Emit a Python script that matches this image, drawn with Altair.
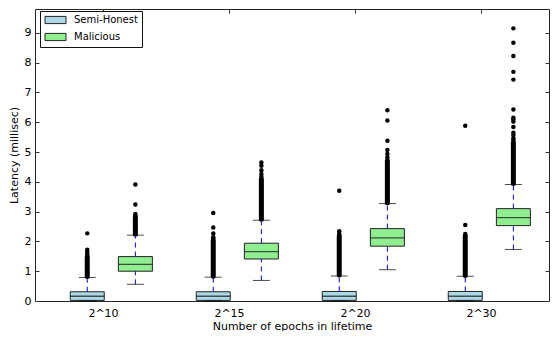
import altair as alt
import pandas as pd

categories = ["2^10", "2^15", "2^20", "2^30"]
series = ["Semi-Honest", "Malicious"]
colors = ["#add8e6", "#90ee90"]

# box statistics (milliseconds)
semi_lo = [0.0, 0.0, 0.0, 0.0]
semi_q1 = [0.02, 0.02, 0.02, 0.02]
semi_med = [0.16, 0.16, 0.16, 0.16]
semi_q3 = [0.31, 0.31, 0.32, 0.32]
semi_hi = [0.79, 0.80, 0.84, 0.83]

mal_lo = [0.56, 0.69, 1.05, 1.73]
mal_q1 = [1.00, 1.41, 1.84, 2.53]
mal_med = [1.23, 1.66, 2.12, 2.80]
mal_q3 = [1.49, 1.94, 2.43, 3.10]
mal_hi = [2.21, 2.71, 3.27, 3.91]

# densely packed outlier ranges
semi_dense_lo = [0.82, 0.83, 0.87, 0.86]
semi_dense_hi = [1.47, 2.03, 2.18, 2.18]
mal_dense_lo = [2.24, 2.74, 3.30, 3.94]
mal_dense_hi = [2.80, 4.09, 4.71, 5.32]

# isolated outliers
semi_outliers = [
    [1.52, 1.58, 1.65, 1.72, 2.27],
    [2.09, 2.14, 2.27, 2.47, 2.95],
    [2.25, 2.34, 3.70],
    [2.25, 2.55, 5.88],
]
mal_outliers = [
    [2.86, 2.92, 3.24, 3.91],
    [4.17, 4.26, 4.39, 4.54, 4.65],
    [4.82, 4.93, 5.07, 5.38, 6.06, 6.40],
    [5.40, 5.46, 5.57, 5.65, 5.84, 6.02, 6.10, 6.15, 6.43, 7.43, 7.69, 8.22, 8.67, 9.15],
]

offsets = {"Semi-Honest": -0.125, "Malicious": 0.257}

stats_rows, out_rows, dense_rows = [], [], []
for i, cat in enumerate(categories):
    for s, lo, q1, md, q3, hi, dlo, dhi, outs in [
        ("Semi-Honest", semi_lo, semi_q1, semi_med, semi_q3, semi_hi, semi_dense_lo, semi_dense_hi, semi_outliers),
        ("Malicious", mal_lo, mal_q1, mal_med, mal_q3, mal_hi, mal_dense_lo, mal_dense_hi, mal_outliers),
    ]:
        xc = i + 0.5 + offsets[s]
        stats_rows.append(dict(cat=cat, series=s, x=xc, lo=lo[i], q1=q1[i], med=md[i], q3=q3[i], hi=hi[i]))
        dense_rows.append(dict(x=xc, lo=dlo[i], hi=dhi[i]))
        for v in outs[i]:
            out_rows.append(dict(x=xc, v=v))

stats = pd.DataFrame(stats_rows)
outl = pd.DataFrame(out_rows)
dense = pd.DataFrame(dense_rows)

W, H = 514, 292
xscale = alt.Scale(domain=[0, 4], nice=False, zero=False)
yscale = alt.Scale(domain=[0, 9.8], nice=False, zero=True)
xvals = [i + 0.5 for i in range(len(categories))]
yvals = list(range(10))
label_arr = "[" + ",".join("'%s'" % c for c in categories) + "]"

def xax(**kw):
    return alt.Axis(values=xvals, grid=False, domain=False, **kw)

def yax(**kw):
    return alt.Axis(values=yvals, grid=False, domain=False, **kw)

base = alt.Chart(stats)

whisk_up = base.mark_rule(color="blue", strokeDash=[5, 4], strokeWidth=1).encode(
    x=alt.X("x:Q", scale=xscale, axis=None),
    y=alt.Y("q3:Q", scale=yscale, axis=None),
    y2="hi:Q",
)
whisk_dn = base.mark_rule(color="blue", strokeDash=[5, 4], strokeWidth=1).encode(
    x=alt.X("x:Q", scale=xscale, axis=None),
    y=alt.Y("lo:Q", scale=yscale, axis=None),
    y2="q1:Q",
)
cap_hi = base.mark_tick(orient="horizontal", size=17, thickness=1, color="black").encode(
    x=alt.X("x:Q", scale=xscale,
            axis=xax(orient="bottom", offset=-H, labels=False, title=None, tickSize=4, tickColor="#333")),
    y=alt.Y("hi:Q", scale=yscale,
            axis=yax(orient="left", offset=-W, labels=False, title=None, tickSize=4, tickColor="#333")),
)
cap_lo = base.mark_tick(orient="horizontal", size=17, thickness=1, color="black").encode(
    x=alt.X("x:Q", scale=xscale, axis=None),
    y=alt.Y("lo:Q", scale=yscale, axis=None),
)
boxes = base.mark_bar(size=34, stroke="#222", strokeWidth=1).encode(
    x=alt.X("x:Q", scale=xscale,
            axis=xax(orient="bottom", ticks=False, tickSize=0, labelPadding=6,
                     labelExpr=label_arr + "[round(datum.value - 0.5)]",
                     title="Number of epochs in lifetime", titlePadding=2)),
    y=alt.Y("q1:Q", scale=yscale,
            axis=yax(orient="left", ticks=False, tickSize=0, labelPadding=4,
                     title="Latency (millisec)", titlePadding=5)),
    y2="q3:Q",
    fill=alt.Fill("series:N", scale=alt.Scale(domain=series, range=colors),
                  legend=alt.Legend(title=None, orient="none", legendX=5, legendY=2,
                                    direction="vertical")),
)
medians = base.mark_tick(orient="horizontal", size=34, thickness=1.3, color="#111").encode(
    x=alt.X("x:Q", scale=xscale,
            axis=xax(orient="top", offset=-H, labels=False, title=None, tickSize=4, tickColor="#333")),
    y=alt.Y("med:Q", scale=yscale,
            axis=yax(orient="right", offset=-W, labels=False, title=None, tickSize=4, tickColor="#333")),
)
dense_m = alt.Chart(dense).mark_rule(color="black", strokeWidth=5, strokeCap="round").encode(
    x=alt.X("x:Q", scale=xscale, axis=None),
    y=alt.Y("lo:Q", scale=yscale, axis=None),
    y2="hi:Q",
)
points = alt.Chart(outl).mark_circle(color="black", size=20, opacity=1).encode(
    x=alt.X("x:Q", scale=xscale, axis=None),
    y=alt.Y("v:Q", scale=yscale, axis=None),
)

chart = alt.layer(
    boxes, whisk_up, whisk_dn, cap_hi, cap_lo, medians, dense_m, points
).resolve_axis(x="independent", y="independent").properties(
    width=W, height=H, padding=0
).configure(
    font="DejaVu Sans"
).configure_view(
    stroke="#222", strokeWidth=1
).configure_axis(
    labelFont="DejaVu Sans", titleFont="DejaVu Sans", labelFontSize=11, titleFontSize=11,
    titleFontWeight="normal", labelColor="black", titleColor="black"
).configure_legend(
    labelFont="DejaVu Sans", labelFontSize=10, labelColor="black",
    strokeColor="#111", fillColor="white", padding=4, rowPadding=5,
    symbolType="M-1,-0.9H4.25V0.9H-1Z", symbolSize=64, symbolStrokeColor="#222",
    symbolStrokeWidth=1, labelOffset=20, cornerRadius=0
)

chart.save("out.html", embed_options={"renderer": "svg", "actions": False})
